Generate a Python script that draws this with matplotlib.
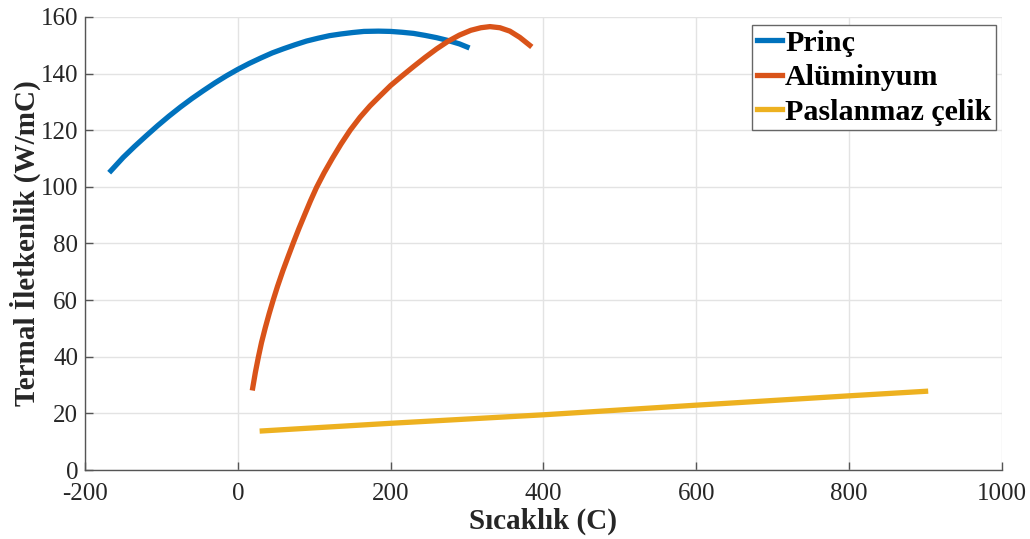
import matplotlib
matplotlib.use("Agg")
import matplotlib.pyplot as plt

# values
princ_T = [-166, -150, -135, -120, -105, -90, -75, -60, -45, -30, -15, 0, 15, 30, 45, 60, 75, 90,
           105, 120, 135, 150, 165, 184, 200, 215, 230, 245, 260, 275, 290, 300]
princ_k = [105.7, 110.4, 114.3, 118, 121.6, 125, 128.2, 131.2, 134, 136.7, 139.2, 141.5, 143.6, 145.5,
           147.3, 148.8, 150.2, 151.5, 152.5, 153.4, 154, 154.5, 154.9, 155, 154.9, 154.6, 154.2,
           153.5, 152.7, 151.7, 150.5, 149.4]

al_T = [19.5, 23, 27, 31, 36, 41, 46.5, 52, 59, 66, 73, 80, 88, 95, 103, 113, 124, 135, 147, 160,
        173, 186, 200, 215, 230, 245, 260, 275, 290, 305, 318, 330, 343, 356, 369, 382]
al_k = [29, 34.5, 40, 45, 50.3, 55.2, 60.2, 64.9, 70.4, 75.5, 80.5, 85.3, 90.5, 95, 99.8, 105, 110.2,
        115.1, 120, 124.6, 128.6, 132.1, 135.8, 139.2, 142.5, 145.7, 148.7, 151.4, 153.6, 155.3,
        156.2, 156.6, 156.2, 155, 152.8, 150]

celik_T = [32, 200, 400, 600, 800, 900]
celik_k = [13.8, 16.5, 19.5, 22.9, 26.2, 27.8]

labels = ["Prinç", "Alüminyum", "Paslanmaz çelik"]
colors = ["#0072BD", "#D95319", "#EDB120"]

plt.rcParams['font.family'] = ['Liberation Serif', 'DejaVu Serif']
plt.rcParams['axes.unicode_minus'] = False

fig = plt.figure(figsize=(10.3, 5.39), dpi=100)
ax = fig.add_axes([0.0825, 0.128, 0.8903, 0.8405])

ax.plot(princ_T, princ_k, color=colors[0], lw=3.8, label=labels[0], solid_joinstyle="round")
ax.plot(al_T, al_k, color=colors[1], lw=3.8, label=labels[1], solid_joinstyle="round")
ax.plot(celik_T, celik_k, color=colors[2], lw=3.8, label=labels[2], solid_joinstyle="round")

ax.set_xlim(-200, 1000)
ax.set_ylim(0, 160)
ax.set_xticks(range(-200, 1001, 200))
ax.set_yticks(range(0, 161, 20))
ax.grid(True, color="#e3e3e3", lw=1)
ax.set_axisbelow(True)

for s in ["top", "right"]:
    ax.spines[s].set_visible(False)
for s in ["left", "bottom"]:
    ax.spines[s].set_color("#555555")
    ax.spines[s].set_linewidth(1.0)

ax.tick_params(direction="in", length=6, width=1, color="#555555",
               labelsize=18, labelcolor="#262626")
ax.tick_params(axis="x", pad=9)
ax.tick_params(axis="y", pad=5)

ax.set_xlabel("Sıcaklık (C)", fontsize=21, fontweight="bold", color="#262626", labelpad=2)
ax.set_ylabel("Termal İletkenlik (W/mC)", fontsize=21, fontweight="bold", color="#262626", labelpad=0)

leg = ax.legend(loc="upper right", bbox_to_anchor=(0.9935, 0.982),
                prop={"weight": "bold", "size": 21.6}, handlelength=0.85, handletextpad=0.1,
                labelspacing=0.25, borderpad=0.15, borderaxespad=0.0, fancybox=False,
                framealpha=1, edgecolor="#666666")
leg.get_frame().set_linewidth(1.0)

fig.savefig("out.png", dpi=100)
